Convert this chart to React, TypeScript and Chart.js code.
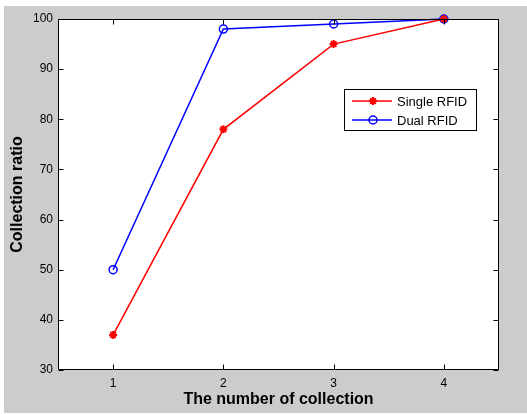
import React, { useEffect, useRef } from "react";
import { Chart, registerables } from "chart.js";

Chart.register(...registerables);

const xValues = [1, 2, 3, 4];
const singleRFID = [37, 78, 95, 100];
const dualRFID = [50, 98, 99, 100];
const xTicks = [1, 2, 3, 4];
const yTicks = [30, 40, 50, 60, 70, 80, 90, 100];
const seriesNames = ["Single RFID", "Dual RFID"];
const xTitle = "The number of collection";
const yTitle = "Collection ratio";

const FONT = "'Liberation Sans', Arial, Helvetica, sans-serif";

function drawMarker(ctx: CanvasRenderingContext2D, ds: any, x: number, y: number) {
  const r = ds.pointRadius;
  ctx.save();
  ctx.strokeStyle = ds.pointBorderColor;
  ctx.fillStyle = ds.pointBackgroundColor;
  ctx.lineWidth = ds.pointBorderWidth;
  ctx.beginPath();
  if (ds.pointStyle === "star") {
    ctx.moveTo(x - r, y); ctx.lineTo(x + r, y);
    ctx.moveTo(x, y - r); ctx.lineTo(x, y + r);
    const d = r * Math.SQRT1_2;
    ctx.moveTo(x - d, y - d); ctx.lineTo(x + d, y + d);
    ctx.moveTo(x - d, y + d); ctx.lineTo(x + d, y - d);
    ctx.stroke();
  } else {
    ctx.arc(x, y, r, 0, Math.PI * 2);
    ctx.fill();
    ctx.stroke();
  }
  ctx.restore();
}

const framePlugin = {
  id: "matlabFrame",
  beforeDraw(chart: any) {
    const { ctx, width, height, chartArea } = chart;
    ctx.save();
    ctx.fillStyle = "#ffffff";
    ctx.fillRect(0, 0, width, height);
    ctx.fillStyle = "#cccccc";
    ctx.fillRect(4, 6, width - 4, height - 7);
    ctx.fillStyle = "#ffffff";
    ctx.fillRect(chartArea.left, chartArea.top, chartArea.right - chartArea.left, chartArea.bottom - chartArea.top);
    ctx.restore();
  },
  afterDatasetsDraw(chart: any) {
    const { ctx, chartArea, scales } = chart;
    const { left, right, top, bottom } = chartArea;
    ctx.save();
    ctx.strokeStyle = "#000000";
    ctx.lineWidth = 1;
    ctx.beginPath();
    const L = Math.round(left) + 0.5, R = Math.round(right) - 0.5, T = Math.round(top) + 0.5, B = Math.round(bottom) - 0.5;
    ctx.rect(L, T, R - L, B - T);
    const tl = 5;
    for (const v of yTicks) {
      const y = Math.round(scales.y.getPixelForValue(v)) + 0.5;
      ctx.moveTo(L, y); ctx.lineTo(L + tl, y);
      ctx.moveTo(R, y); ctx.lineTo(R - tl, y);
    }
    for (const v of xTicks) {
      const x = Math.round(scales.x.getPixelForValue(v)) + 0.5;
      ctx.moveTo(x, B); ctx.lineTo(x, B - tl);
      ctx.moveTo(x, T); ctx.lineTo(x, T + tl);
    }
    ctx.stroke();

    // legend
    const bx = 344.5, by = 89.5, bw = 132, bh = 41;
    ctx.fillStyle = "#ffffff";
    ctx.fillRect(bx, by, bw, bh);
    ctx.strokeStyle = "#000000";
    ctx.strokeRect(bx, by, bw, bh);
    const rows = [101, 120];
    chart.data.datasets.forEach((ds: any, i: number) => {
      const y = rows[i];
      ctx.strokeStyle = ds.borderColor;
      ctx.lineWidth = ds.borderWidth;
      ctx.beginPath();
      ctx.moveTo(352, y);
      ctx.lineTo(392, y);
      ctx.stroke();
      drawMarker(ctx, ds, 373, y);
      ctx.fillStyle = "#000000";
      ctx.font = `13px ${FONT}`;
      ctx.textBaseline = "middle";
      ctx.textAlign = "left";
      ctx.fillText(ds.label, 397, y + 1);
    });
    ctx.restore();
  },
};

export default function App() {
  const ref = useRef<HTMLCanvasElement>(null);
  useEffect(() => {
    if (!ref.current) return;
    const chart = new Chart(ref.current, {
      type: "line",
      data: {
        datasets: [
          {
            label: seriesNames[0],
            data: xValues.map((x, i) => ({ x, y: singleRFID[i] })),
            borderColor: "#ff0000",
            backgroundColor: "#ff0000",
            borderWidth: 1.5,
            pointStyle: "star",
            pointRadius: 4,
            pointBorderWidth: 2,
            pointBackgroundColor: "#ff0000",
            pointBorderColor: "#ff0000",
            tension: 0,
          },
          {
            label: seriesNames[1],
            data: xValues.map((x, i) => ({ x, y: dualRFID[i] })),
            borderColor: "#0000ff",
            backgroundColor: "#0000ff",
            borderWidth: 1.5,
            pointStyle: "circle",
            pointRadius: 4,
            pointBorderWidth: 1.5,
            pointBackgroundColor: "rgba(255,255,255,0)",
            pointBorderColor: "#0000ff",
            tension: 0,
          },
        ] as any,
      },
      options: {
        animation: false,
        responsive: false,
        clip: false as any,
        layout: { padding: { top: 19, right: 28, left: 0, bottom: 0 } },
        plugins: { legend: { display: false }, tooltip: { enabled: false } },
        scales: {
          x: {
            type: "linear",
            min: 0.5,
            max: 4.5,
            afterBuildTicks: (s: any) => { s.ticks = xTicks.map((v) => ({ value: v })); },
            afterFit: (s: any) => { s.height = 44; },
            grid: { display: false, drawTicks: false },
            border: { display: false },
            ticks: { color: "#000", font: { family: FONT, size: 12 }, padding: 6, maxRotation: 0 },
            title: { display: true, text: xTitle, color: "#000", font: { family: FONT, size: 16, weight: "bold" }, padding: { top: 2, bottom: 5 } },
          },
          y: {
            type: "linear",
            min: 30,
            max: 100,
            afterBuildTicks: (s: any) => { s.ticks = yTicks.map((v) => ({ value: v })); },
            afterFit: (s: any) => { s.width = 58; },
            grid: { display: false, drawTicks: false },
            border: { display: false },
            ticks: { color: "#000", font: { family: FONT, size: 12 }, padding: 5 },
            title: { display: true, text: yTitle, color: "#000", font: { family: FONT, size: 16, weight: "bold" }, padding: { top: 8, bottom: 0 } },
          },
        },
      },
      plugins: [framePlugin],
    });
    return () => chart.destroy();
  }, []);
  return (
    <div style={{ position: "fixed", left: 0, top: 0, width: 527, height: 414 }}>
      <canvas ref={ref} width={527} height={414} style={{ display: "block" }} />
    </div>
  );
}
